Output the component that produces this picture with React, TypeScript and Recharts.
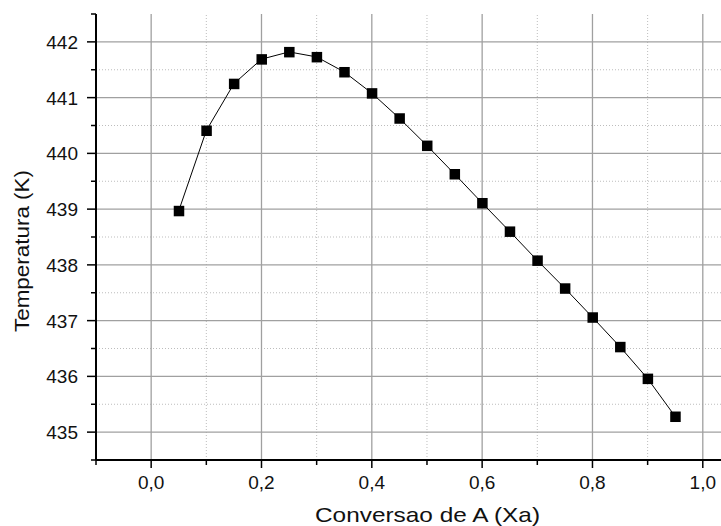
import React from 'react';
import { ScatterChart, Scatter, XAxis, YAxis, ReferenceLine } from 'recharts';

const conversion = [0.05, 0.1, 0.15, 0.2, 0.25, 0.3, 0.35, 0.4, 0.45, 0.5, 0.55, 0.6, 0.65, 0.7, 0.75, 0.8, 0.85, 0.9, 0.95];
const temperature = [438.97, 440.41, 441.25, 441.69, 441.82, 441.73, 441.46, 441.08, 440.63, 440.14, 439.63, 439.11, 438.6, 438.08, 437.58, 437.06, 436.53, 435.96, 435.28];

const xMajorTicks = [0, 0.2, 0.4, 0.6, 0.8, 1.0];
const xMinorTicks = [-0.1, 0.1, 0.3, 0.5, 0.7, 0.9];
const yMajorTicks = [435, 436, 437, 438, 439, 440, 441, 442];
const yMinorTicks = [434.5, 435.5, 436.5, 437.5, 438.5, 439.5, 440.5, 441.5, 442.5];

const data = conversion.map((x, i) => ({ x, y: temperature[i] }));

const FONT = 'Arial, "Liberation Sans", sans-serif';

const fmt = (v: number) => v.toFixed(1).replace('.', ',');

const XTick = (props: any) => {
  const { x, y, payload } = props;
  const major = xMajorTicks.includes(payload.value);
  return (
    <g>
      <line x1={x} x2={x} y1={y} y2={y + (major ? 8 : 5)} stroke="#000" strokeWidth={1.5} />
      {major && (
        <text x={x} y={y + 29} textAnchor="middle" fontSize={19} fontFamily={FONT} fill="#111">
          {fmt(payload.value)}
        </text>
      )}
    </g>
  );
};

const YTick = (props: any) => {
  const { x, y, payload } = props;
  const major = yMajorTicks.includes(payload.value);
  return (
    <g>
      <line x1={x - (major ? 9 : 5)} x2={x} y1={y} y2={y} stroke="#000" strokeWidth={1.5} />
      {major && (
        <text x={x - 18} y={y + 7} textAnchor="end" fontSize={19} fontFamily={FONT} fill="#111">
          {payload.value}
        </text>
      )}
    </g>
  );
};

const XTitle = () => (
  <text x={427.5} y={522} textAnchor="middle" fontSize={21} fontFamily={FONT} fill="#111" textLength={225} lengthAdjust="spacingAndGlyphs">
    Conversao de A (Xa)
  </text>
);

const YTitle = () => (
  <text x={21.5} y={251} transform="rotate(-90, 21.5, 251)" textAnchor="middle" dominantBaseline="central" fontSize={21} fontFamily={FONT} fill="#111" textLength={162} lengthAdjust="spacingAndGlyphs">
    Temperatura (K)
  </text>
);

const Square = (props: any) => {
  const { cx, cy } = props;
  return <rect x={cx - 5} y={cy - 5} width={10.5} height={10.5} fill="#000" />;
};

export default function App() {
  return (
    <div style={{ position: 'absolute', left: 0, top: 0, background: '#fff' }}>
      <ScatterChart width={721} height={526} margin={{ top: 14, right: 0, bottom: 0, left: 0 }}>
        <XAxis
          type="number"
          dataKey="x"
          domain={[-0.1, 1.033]}
          allowDataOverflow
          ticks={[...xMinorTicks, ...xMajorTicks].sort((a, b) => a - b)}
          interval={0}
          tickSize={0}
          tickMargin={0}
          tickLine={false}
          tick={<XTick />}
          height={66}
          axisLine={{ stroke: '#000', strokeWidth: 2 }}
          label={<XTitle />}
        />
        <YAxis
          type="number"
          dataKey="y"
          domain={[434.5, 442.5]}
          allowDataOverflow
          ticks={[...yMinorTicks, ...yMajorTicks].sort((a, b) => a - b)}
          interval={0}
          tickSize={0}
          tickMargin={0}
          tickLine={false}
          tick={<YTick />}
          width={96}
          axisLine={{ stroke: '#000', strokeWidth: 2 }}
          label={<YTitle />}
        />
        {yMinorTicks.slice(1, -1).map((v) => (
          <ReferenceLine key={'ym' + v} y={v} stroke="#bdbdbd" strokeDasharray="1 2" />
        ))}
        {xMinorTicks.slice(1).map((v) => (
          <ReferenceLine key={'xm' + v} x={v} stroke="#bdbdbd" strokeDasharray="1 2" />
        ))}
        {yMajorTicks.map((v) => (
          <ReferenceLine key={'yM' + v} y={v} stroke="#a0a0a0" strokeWidth={1.3} />
        ))}
        {xMajorTicks.map((v) => (
          <ReferenceLine key={'xM' + v} x={v} stroke="#a0a0a0" strokeWidth={1.3} />
        ))}
        <Scatter data={data} line={{ stroke: '#000', strokeWidth: 1 }} shape={<Square />} isAnimationActive={false} />
      </ScatterChart>
    </div>
  );
}
